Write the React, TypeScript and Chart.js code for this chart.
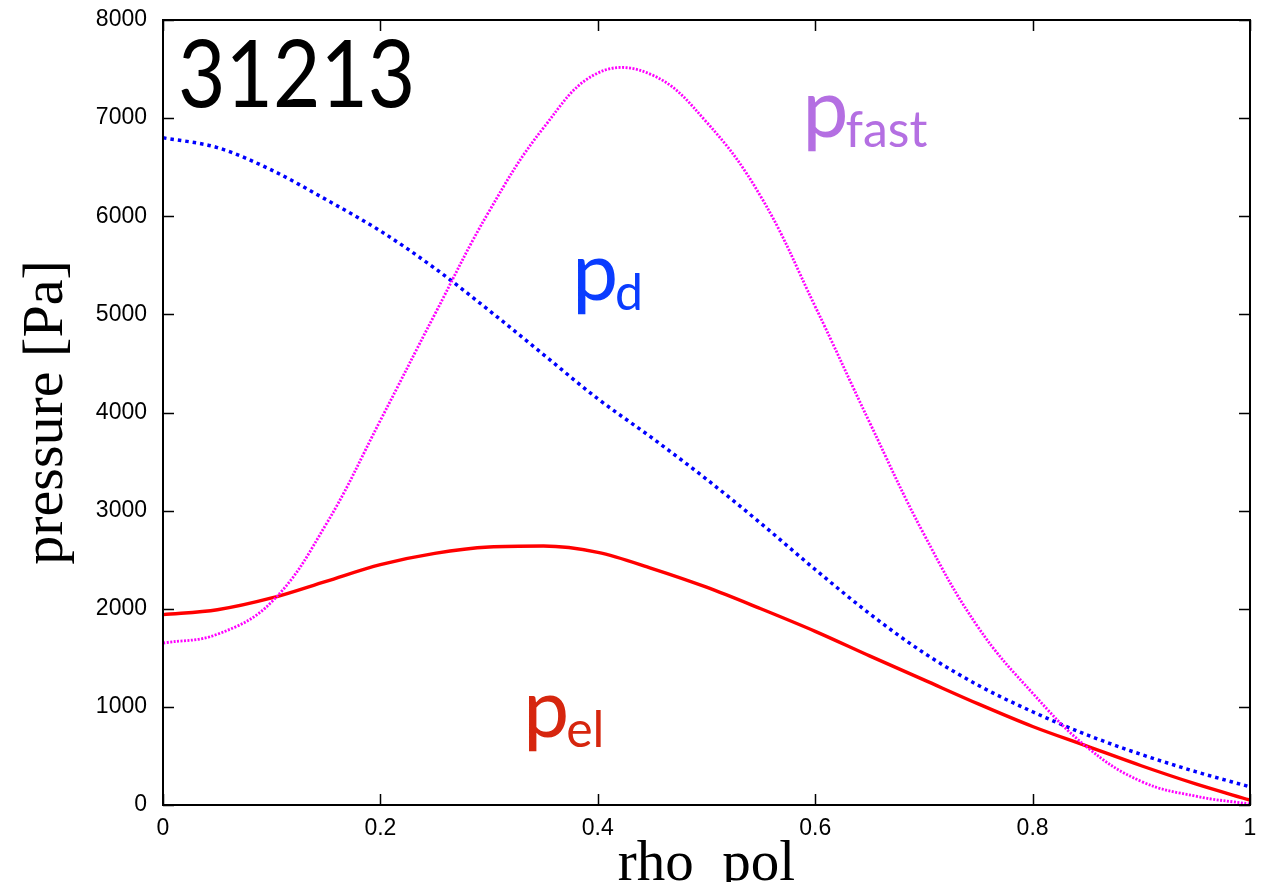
import { useEffect, useRef } from "react";
import { Chart, registerables } from "chart.js";

Chart.register(...registerables);

// ---- data ----
const rho = [0, 0.05, 0.1, 0.15, 0.2, 0.25, 0.3, 0.35, 0.4, 0.45, 0.5, 0.55, 0.6, 0.65, 0.7, 0.75, 0.8, 0.85, 0.9, 0.95, 1.0];
const pEl = [1940, 1990, 2110, 2280, 2450, 2565, 2630, 2640, 2575, 2410, 2220, 2000, 1770, 1520, 1275, 1030, 800, 600, 400, 215, 50];
const pD = [6800, 6700, 6470, 6170, 5850, 5470, 5040, 4590, 4140, 3740, 3320, 2870, 2400, 1950, 1550, 1220, 950, 715, 515, 340, 185];
const pFast = [1650, 1740, 2070, 2860, 3920, 5000, 6050, 6900, 7460, 7440, 6960, 6200, 5080, 3900, 2760, 1810, 1140, 590, 240, 90, 10];

const xTickValues = [0, 0.2, 0.4, 0.6, 0.8, 1];
const xTickLabels = ["0", "0.2", "0.4", "0.6", "0.8", "1"];
const yTickValues = [0, 1000, 2000, 3000, 4000, 5000, 6000, 7000, 8000];
const yTickLabels = ["0", "1000", "2000", "3000", "4000", "5000", "6000", "7000", "8000"];

const xTitle = "rho_pol";
const yTitle = "pressure [Pa]";
const shotNumber = "31213";

const curveLabelMain = ["p", "p", "p"];
const curveLabelSub = ["el", "d", "fast"];

const toPoints = (ys: number[]) => rho.map((x, i) => ({ x, y: ys[i] }));

const framePlugin = {
  id: "frameTicks",
  afterDatasetsDraw(chart: any) {
    const { ctx, chartArea: a, scales } = chart;
    const xs = scales.x;
    const ys = scales.y;
    ctx.save();
    ctx.strokeStyle = "#000";
    ctx.lineWidth = 1.5;
    const tl = 11;
    xs.ticks.forEach((t: any) => {
      const px = Math.round(xs.getPixelForValue(t.value)) + 0.5;
      ctx.beginPath();
      ctx.moveTo(px, a.bottom);
      ctx.lineTo(px, a.bottom - tl);
      ctx.moveTo(px, a.top);
      ctx.lineTo(px, a.top + tl);
      ctx.stroke();
    });
    ys.ticks.forEach((t: any) => {
      const py = Math.round(ys.getPixelForValue(t.value)) + 0.5;
      ctx.beginPath();
      ctx.moveTo(a.left, py);
      ctx.lineTo(a.left + tl, py);
      ctx.moveTo(a.right, py);
      ctx.lineTo(a.right - tl, py);
      ctx.stroke();
    });
    ctx.lineWidth = 2;
    ctx.strokeRect(a.left, a.top, a.right - a.left, a.bottom - a.top);
    ctx.restore();
  },
};

// annotation placement (data coordinates) - layout, not data
const labelPlacement = [
  { x: 0.336, y: 690, color: "#d6260e" },
  { x: 0.381, y: 5150, color: "#0a3cff" },
  { x: 0.593, y: 6810, color: "#b46fe2" },
];

const labelPlugin = {
  id: "curveLabels",
  afterDraw(chart: any) {
    const { ctx, scales } = chart;
    const xs = scales.x;
    const ys = scales.y;
    ctx.save();
    ctx.textBaseline = "alphabetic";
    ctx.textAlign = "left";
    // shot number (slightly condensed to resemble the original typeface)
    ctx.fillStyle = "#000";
    ctx.font = "93px Lato";
    ctx.save();
    ctx.translate(xs.getPixelForValue(0.0138), ys.getPixelForValue(7113));
    ctx.scale(0.88, 1);
    ctx.fillText(shotNumber, 0, 0);
    ctx.restore();
    labelPlacement.forEach((p, i) => {
      const px = xs.getPixelForValue(p.x);
      const py = ys.getPixelForValue(p.y);
      ctx.fillStyle = p.color;
      ctx.font = "82px Lato";
      ctx.fillText(curveLabelMain[i], px - 5, py);
      const w = ctx.measureText(curveLabelMain[i]).width;
      ctx.font = "50px Lato";
      ctx.fillText(curveLabelSub[i], px - 5 + w - 3, py + 10);
    });
    ctx.restore();
  },
};

export default function App() {
  const ref = useRef<HTMLCanvasElement | null>(null);
  useEffect(() => {
    if (!ref.current) return;
    const chart = new Chart(ref.current, {
      type: "line",
      data: {
        datasets: [
          {
            label: "p_fast",
            data: toPoints(pFast),
            borderColor: "#ff00ff",
            borderWidth: 2.8,
            borderDash: [2, 1.5],
            pointRadius: 0,
            fill: false,
            tension: 0.4,
          },
          {
            label: "p_d",
            data: toPoints(pD),
            borderColor: "#0000ff",
            borderWidth: 3.5,
            borderDash: [3.5, 4],
            pointRadius: 0,
            fill: false,
            cubicInterpolationMode: "monotone",
          },
          {
            label: "p_el",
            data: toPoints(pEl),
            borderColor: "#ff0000",
            borderWidth: 3.4,
            pointRadius: 0,
            fill: false,
            cubicInterpolationMode: "monotone",
          },
        ],
      },
      options: {
        animation: false,
        responsive: false,
        maintainAspectRatio: false,
        layout: { padding: { left: 0, top: 20, right: 13, bottom: 0 } },
        plugins: { legend: { display: false }, tooltip: { enabled: false }, title: { display: false } },
        scales: {
          x: {
            type: "linear",
            min: 0,
            max: 1,
            grid: { display: false, drawTicks: false },
            border: { display: false },
            afterBuildTicks: (s: any) => {
              s.ticks = xTickValues.map((v) => ({ value: v }));
            },
            afterFit: (s: any) => {
              s.height = 77;
              s.paddingLeft = 0;
              s.paddingRight = 0;
            },
            ticks: {
              padding: 10,
              color: "#000",
              font: { family: "'Liberation Sans', Arial, sans-serif", size: 23 },
              callback: (_v: any, i: number) => xTickLabels[i],
              maxRotation: 0,
              autoSkip: false,
            },
            title: {
              display: true,
              text: xTitle,
              color: "#000",
              font: { family: "'Liberation Serif', 'Times New Roman', serif", size: 57 },
              padding: { top: 0, bottom: -17 },
            },
          },
          y: {
            type: "linear",
            min: 0,
            max: 8000,
            grid: { display: false, drawTicks: false },
            border: { display: false },
            afterBuildTicks: (s: any) => {
              s.ticks = yTickValues.map((v) => ({ value: v }));
            },
            afterFit: (s: any) => {
              s.width = 163;
              s.paddingTop = 0;
              s.paddingBottom = 0;
            },
            ticks: {
              padding: 16,
              color: "#000",
              font: { family: "'Liberation Sans', Arial, sans-serif", size: 23 },
              callback: (_v: any, i: number) => yTickLabels[i],
              autoSkip: false,
            },
            title: {
              display: true,
              text: yTitle,
              color: "#000",
              font: { family: "'Liberation Serif', 'Times New Roman', serif", size: 58 },
              padding: { top: 12, bottom: 0 },
            },
          },
        },
      },
      plugins: [framePlugin, labelPlugin],
    });
    return () => chart.destroy();
  }, []);
  return (
    <div style={{ position: "absolute", left: 0, top: 0, width: 1263, height: 882, background: "#fff" }}>
      <canvas ref={ref} width={1263} height={882} style={{ width: 1263, height: 882, display: "block" }} />
    </div>
  );
}
